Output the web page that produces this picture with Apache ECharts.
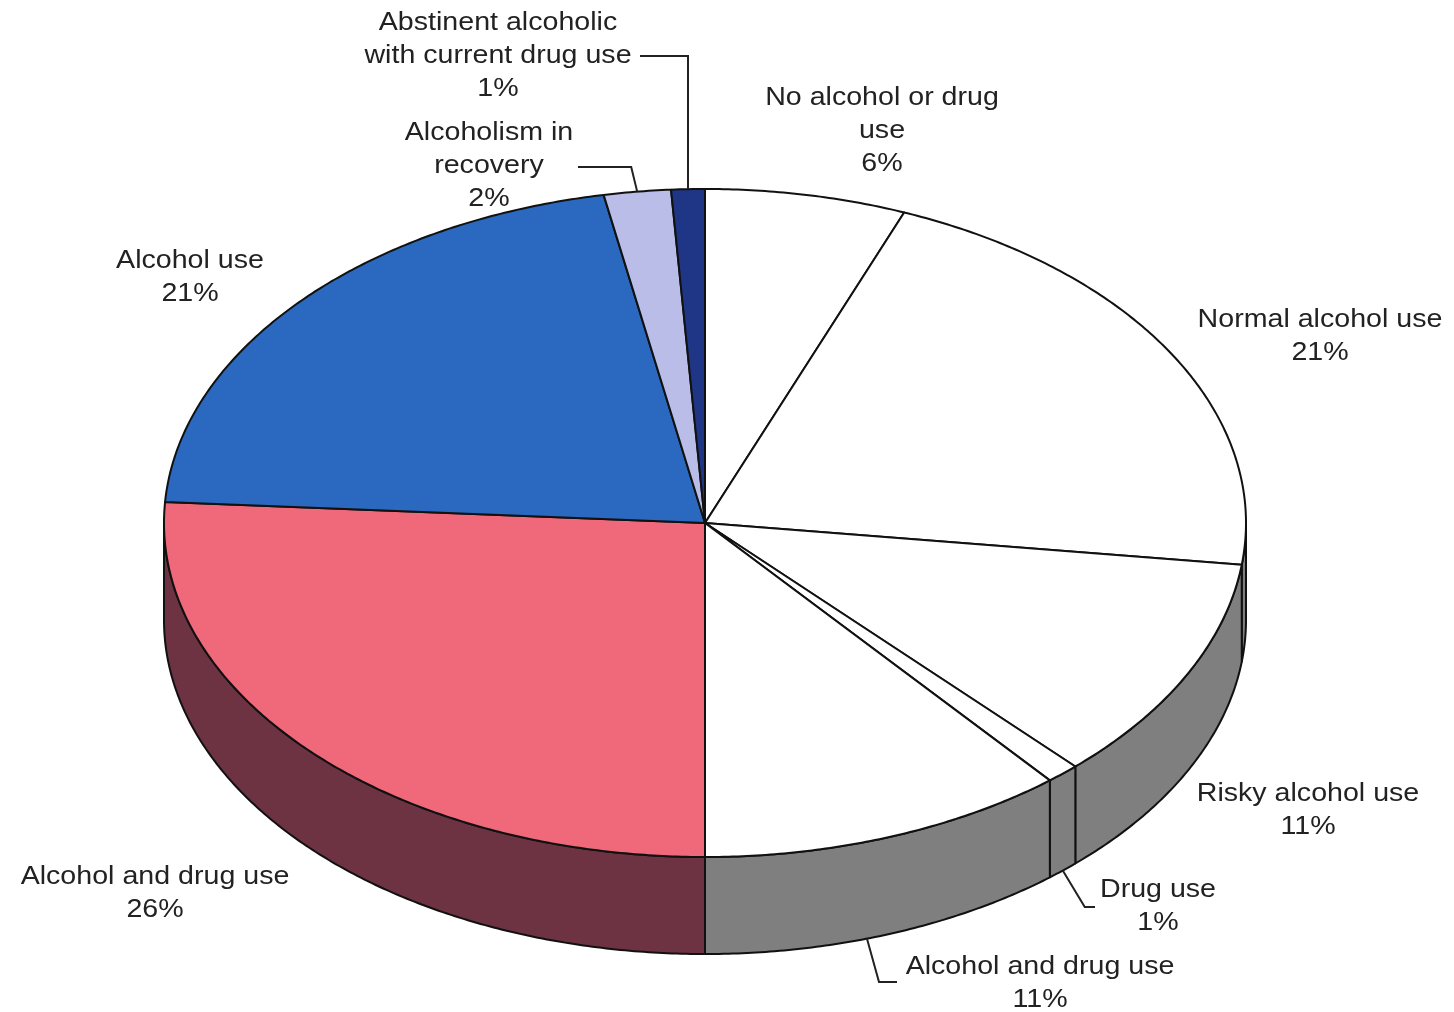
<!DOCTYPE html>
<html><head><meta charset="utf-8">
<script src="https://cdn.jsdelivr.net/npm/echarts@6/dist/echarts.min.js"></script>
<style>html,body{margin:0;padding:0;background:#fff}#c{width:1454px;height:1012px}</style>
</head><body><div id="c"></div>
<script>
// ---- data ----
const CATEGORIES = ['No alcohol or drug use','Normal alcohol use','Risky alcohol use','Drug use','Alcohol and drug use','Alcohol and drug use','Alcohol use','Alcoholism in recovery','Abstinent alcoholic with current drug use'];
const LABEL_LINES = ['No alcohol or drug\nuse','Normal alcohol use','Risky alcohol use','Drug use','Alcohol and drug use','Alcohol and drug use','Alcohol use','Alcoholism in\nrecovery','Abstinent alcoholic\nwith current drug use'];
const VALUES = [6,21,11,1,11,26,21,2,1];
const PERCENT_LABELS = ['6%','21%','11%','1%','11%','26%','21%','2%','1%'];

// ---- layout / style ----
const G = {cx:705, cy:523, rx:541, ry:334, depth:97};
const TOP_COLORS = ['#ffffff','#ffffff','#ffffff','#ffffff','#ffffff','#f0697a','#2a69bf','#b9bde8','#1f3686'];
const SIDE_COLORS = ['#7f7f7f','#7f7f7f','#7f7f7f','#7f7f7f','#7f7f7f','#6d3342','#1c4a86','#8a8db0','#14245a'];
const LABEL_POS = [[882,131],[1320,336],[1308,810],[1158,906],[1040,983],[155,893],[190,277],[489,166],[498,56]];
const LEADERS = {
  3: {edge:'bottom', frac:0.5, f:a=>[a,[a[0]+22,907],[1095,907]]},
  4: {edge:'bottom', frac:0.56, f:a=>[a,[a[0]+12,982],[897,982]]},
  7: {edge:'top', frac:0.5, f:a=>[a,[a[0]-6,167],[578,167]]},
  8: {edge:'top', frac:0.5, f:a=>[a,[a[0],56],[640,56]]}
};
const FONT = '26px "Liberation Sans", Arial, sans-serif';
const SX = 1.1;

const total = VALUES.reduce((s,v)=>s+v,0);
function pt(deg, dy){const r=deg*Math.PI/180; return [G.cx+G.rx*Math.sin(r), G.cy-G.ry*Math.cos(r)+(dy||0)];}
function arc(s,e,dy){const n=Math.max(2,Math.ceil(Math.abs(e-s)/0.5)); const out=[]; for(let k=0;k<=n;k++) out.push(pt(s+(e-s)*k/n,dy)); return out;}

function renderItem(params, api){
  const i = params.dataIndex;
  let cum=0; for(let k=0;k<i;k++) cum+=VALUES[k];
  const v = api.value(0);
  const a0 = cum/total*360, a1 = (cum+v)/total*360;
  const children=[];
  const s0=Math.max(a0,90), s1=Math.min(a1,270);
  if(s1>s0){
    children.push({type:'polygon', shape:{points: arc(s0,s1,0).concat(arc(s1,s0,G.depth))},
      style:{fill:SIDE_COLORS[i], stroke:'#111', lineWidth:2, lineJoin:'round'}});
  }
  children.push({type:'polygon', shape:{points:[[G.cx,G.cy]].concat(arc(a0,a1,0))},
    style:{fill:TOP_COLORS[i], stroke:'#111', lineWidth:2, lineJoin:'round'}});
  const L = LEADERS[i];
  if(L){
    const ang = a0+(a1-a0)*L.frac;
    const a = pt(ang, L.edge==='bottom'?G.depth:0);
    children.push({type:'polyline', z2:20, shape:{points:L.f(a)}, style:{stroke:'#222', lineWidth:2, fill:null}});
  }
  children.push({type:'text', z2:30, x:LABEL_POS[i][0], y:LABEL_POS[i][1], scaleX:SX,
    style:{text:LABEL_LINES[i]+'\n'+PERCENT_LABELS[i], align:'center', verticalAlign:'middle',
      textAlign:'center', textVerticalAlign:'middle', font:FONT, fill:'#222', lineHeight:33}});
  return {type:'group', children};
}

const chart = echarts.init(document.getElementById('c'));
chart.setOption({
  animation:false,
  backgroundColor:'#ffffff',
  series:[{type:'custom', coordinateSystem:'none', renderItem,
    data: VALUES.map((v,i)=>({name:CATEGORIES[i], value:v}))}]
});
</script></body></html>
